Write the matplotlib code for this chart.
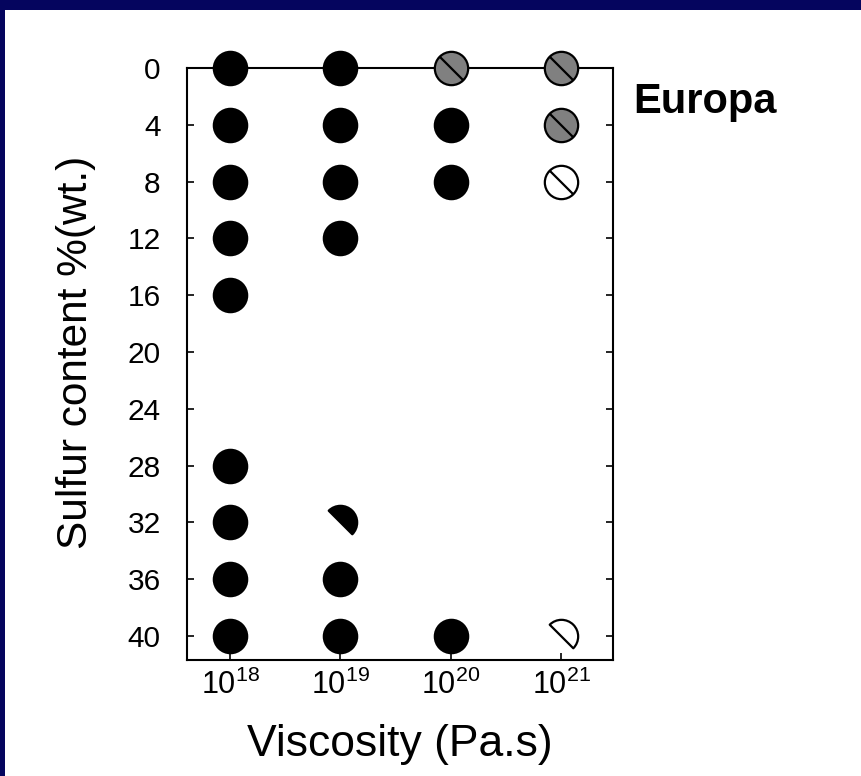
import numpy as np
import matplotlib
matplotlib.use("Agg")
import matplotlib.pyplot as plt
from matplotlib.path import Path
from matplotlib.patches import Rectangle

plt.rcParams['font.family'] = ['Liberation Sans', 'DejaVu Sans']
plt.rcParams['mathtext.fontset'] = 'custom'
plt.rcParams['mathtext.rm'] = 'Liberation Sans'
plt.rcParams['mathtext.it'] = 'Liberation Sans'

# Viscosity decades (log10 Pa.s) and sulfur content levels (wt. %)
viscosity_exp = [18, 19, 20, 21]
sulfur_ticks = [0, 4, 8, 12, 16, 20, 24, 28, 32, 36, 40]

# Outcome of each model run: sulfur content, viscosity exponent, outcome class
run_sulfur = [0, 0, 0, 0,
              4, 4, 4, 4,
              8, 8, 8, 8,
              12, 12,
              16,
              28,
              32, 32,
              36, 36,
              40, 40, 40, 40]
run_visc = [18, 19, 20, 21,
            18, 19, 20, 21,
            18, 19, 20, 21,
            18, 19,
            18,
            18,
            18, 19,
            18, 19,
            18, 19, 20, 21]
run_class = ['solid', 'solid', 'gray', 'gray',
             'solid', 'solid', 'solid', 'gray',
             'solid', 'solid', 'solid', 'open',
             'solid', 'solid',
             'solid',
             'solid',
             'solid', 'half_solid',
             'solid', 'solid',
             'solid', 'solid', 'solid', 'half_open']

# Marker shapes
slash = Path([(-0.707, 0.707), (0.707, -0.707)], [Path.MOVETO, Path.LINETO])
circle_slash = Path.make_compound_path(Path.unit_circle(), slash)
half_disc = Path.wedge(-45, 135)

styles = {
    'solid': dict(marker='o', mfc='black', mec='black'),
    'gray': dict(marker=circle_slash, mfc='#808080', mec='black'),
    'open': dict(marker=circle_slash, mfc='white', mec='black'),
    'half_solid': dict(marker=half_disc, mfc='black', mec='black'),
    'half_open': dict(marker=half_disc, mfc='white', mec='black'),
}

fig = plt.figure(figsize=(8.61, 7.76), dpi=100)
fig.patch.set_facecolor('#05055e')
fig.add_artist(Rectangle((5 / 861, 0), 1, 1 - 10 / 776, transform=fig.transFigure,
                         facecolor='white', edgecolor='none', zorder=0))

ax = fig.add_axes([187 / 861, 1 - 660 / 776, (613 - 187) / 861, (660 - 68) / 776])
ax.set_facecolor('white')
ax.set_xscale('log')
ax.set_xlim(10 ** 17.61, 10 ** 21.47)
ax.set_ylim(41.7, 0)

for s, v, c in zip(run_sulfur, run_visc, run_class):
    st = styles[c]
    ax.plot([10.0 ** v], [s], linestyle='none', marker=st['marker'],
            markersize=24, markerfacecolor=st['mfc'], markeredgecolor=st['mec'],
            markeredgewidth=1.6, clip_on=False, zorder=3)

ax.set_yticks(sulfur_ticks)
ax.set_yticklabels([str(t) for t in sulfur_ticks])
ax.set_xticks([10.0 ** e for e in viscosity_exp])
ax.set_xticklabels([r'$\mathregular{10^{%d}}$' % e for e in viscosity_exp])
ax.minorticks_off()

ax.tick_params(axis='y', direction='in', length=5, width=1.2, labelsize=21.5,
               pad=19, right=True, left=True)
ax.tick_params(axis='x', direction='in', length=5, width=1.2, labelsize=22,
               pad=7, top=False)
for sp in ax.spines.values():
    sp.set_linewidth(1.5)

ax.set_xlabel('Viscosity (Pa.s)', fontsize=32)
ax.xaxis.set_label_coords(0.5, -0.108)
ax.set_ylabel('Sulfur content %(wt.)', fontsize=30.5)
ax.yaxis.set_label_coords(-0.214, 0.519)

fig.text(633 / 861, 1 - 102 / 776, 'Europa', fontsize=30, fontweight='bold',
         ha='left', va='center')

fig.savefig('out.png', dpi=100, facecolor=fig.get_facecolor())
